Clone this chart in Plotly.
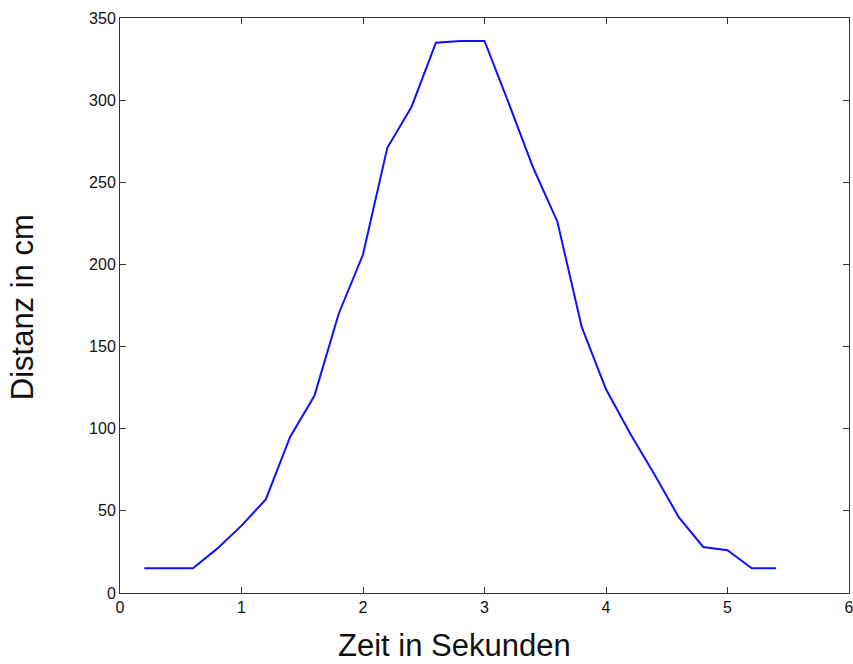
import plotly.graph_objects as go

zeit = [0.2, 0.4, 0.6, 0.8, 1.0, 1.2, 1.4, 1.6, 1.8, 2.0, 2.2, 2.4, 2.6, 2.8,
        3.0, 3.2, 3.4, 3.6, 3.8, 4.0, 4.2, 4.4, 4.6, 4.8, 5.0, 5.2, 5.4]
distanz = [15, 15, 15, 27, 41, 57, 95, 120, 170, 206, 271, 296, 335, 336,
           336, 298, 259, 226, 162, 124, 97, 72, 46, 28, 26, 15, 15]

x_ticks = [0, 1, 2, 3, 4, 5, 6]
y_ticks = [0, 50, 100, 150, 200, 250, 300, 350]

fig = go.Figure()
fig.add_trace(go.Scatter(x=zeit, y=distanz, mode="lines",
                         line=dict(color="#1010ff", width=2)))

axis_common = dict(showline=True, linecolor="#333333", linewidth=1, mirror="ticks",
                   ticks="inside", ticklen=6, tickcolor="#333333", tickwidth=1,
                   showgrid=False, zeroline=False, ticklabeloverflow="allow",
                   tickfont=dict(family="Liberation Sans, Arial", size=16, color="#111111"))

title_font = dict(family="Liberation Sans, Arial", size=31, color="#111111")

fig.update_layout(
    width=853, height=664,
    margin=dict(l=120, r=4, t=18, b=71),
    paper_bgcolor="white", plot_bgcolor="white",
    showlegend=False,
    xaxis=dict(range=[0, 6], tickvals=x_ticks, automargin=False, **axis_common),
    yaxis=dict(range=[0, 350], tickvals=y_ticks, automargin=False, **axis_common),
    annotations=[
        dict(text="Zeit in Sekunden", xref="paper", yref="paper", x=0.4595, y=-0.091,
             xanchor="center", yanchor="middle", showarrow=False, font=title_font),
        dict(text="Distanz in cm", xref="paper", yref="paper", x=-0.1344, y=0.497,
             xanchor="center", yanchor="middle", showarrow=False, textangle=-90,
             font=title_font),
    ],
)

fig.write_html("out.html")
